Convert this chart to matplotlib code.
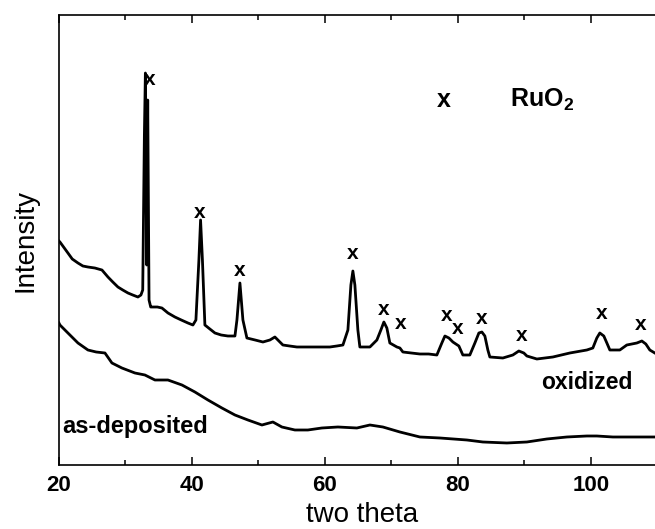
import matplotlib
matplotlib.use('Agg')
import matplotlib.pyplot as plt
from matplotlib.ticker import MultipleLocator

plt.rcParams['font.family'] = ['Liberation Sans', 'DejaVu Sans']
plt.rcParams['mathtext.fontset'] = 'custom'
plt.rcParams['mathtext.rm'] = 'Liberation Sans:bold'
plt.rcParams['mathtext.default'] = 'rm'

# ── Data (arbitrary intensity units) ─────────────────────────────────────────
ox_theta = [20.0, 20.15, 21.35, 22.0, 22.86, 23.6, 24.36, 25.4, 26.47, 27.37,
            28.1, 28.87, 29.6, 30.38, 31.1, 31.88, 32.33, 32.6, 32.85, 33.0,
            33.2, 33.35, 33.55, 33.8, 33.98, 34.8, 35.49, 36.4, 37.44, 38.4,
            39.4, 40.15, 40.6, 41.05, 41.3, 41.58, 41.95, 42.7, 43.46, 44.4,
            45.41, 46.47, 46.77, 47.22, 47.67, 48.27, 49.5, 50.68, 51.73, 52.48,
            53.23, 53.68, 54.7, 55.79, 57.0, 58.2, 59.5, 60.75, 61.8, 62.71,
            63.46, 63.91, 64.21, 64.51, 64.96, 65.26, 66.77, 67.82, 68.42, 68.87,
            69.32, 69.77, 70.83, 71.28, 71.73, 73.0, 74.29, 75.6, 76.84, 77.59,
            78.05, 78.65, 79.25, 79.7, 80.15, 80.75, 81.8, 82.56, 83.16, 83.61,
            84.06, 84.51, 84.81, 86.77, 88.27, 89.17, 89.92, 90.38, 91.88, 94.29,
            96.84, 99.4, 100.3, 100.9, 101.35, 101.95, 102.41, 102.86, 104.36, 105.41,
            106.92, 107.67, 108.27, 108.87, 109.62]
ox_int = [224, 223, 212, 206, 202, 199, 198, 197, 195, 188,
          183, 178, 175, 172, 170, 168, 170, 175, 330, 392,
          200, 365, 165, 158, 158, 158, 157, 152, 148, 145,
          142, 140, 145, 205, 245, 205, 140, 136, 132, 130,
          129, 129, 145, 182, 145, 127, 125, 123, 125, 128,
          123, 120, 119, 118, 118, 118, 118, 118, 119, 120,
          135, 180, 194, 180, 135, 118, 118, 125, 135, 143,
          137, 122, 118, 117, 113, 112, 111, 111, 110, 122,
          129, 127, 123, 121, 119, 110, 110, 122, 132, 133,
          129, 115, 108, 107, 110, 114, 112, 109, 106, 108,
          112, 115, 117, 127, 132, 129, 122, 115, 115, 120,
          122, 124, 121, 115, 112]

dep_theta = [20.0, 20.15, 21.35, 22.86, 24.36, 25.6, 26.92, 27.97, 29.47, 31.43,
             32.93, 34.44, 36.39, 38.5, 40.45, 42.41, 44.51, 46.47, 48.42, 50.53,
             52.18, 53.53, 55.49, 57.44, 59.55, 61.95, 64.81, 66.77, 68.72, 71.28,
             74.29, 77.29, 81.35, 83.76, 87.37, 90.38, 93.38, 96.39, 99.4, 100.9,
             103.31, 106.32, 109.62]
dep_int = [142, 140, 132, 122, 115, 113, 112, 102, 97, 92,
           90, 85, 85, 80, 73, 65, 57, 50, 45, 40,
           43, 38, 35, 35, 37, 38, 37, 40, 38, 33,
           28, 27, 25, 23, 22, 23, 26, 28, 29, 29,
           28, 28, 28]

# RuO2 reflections marked with "x"
peak_theta = [33.68, 41.2, 47.22, 64.21, 68.87, 71.43, 78.35, 80.0, 83.61, 89.62, 101.65, 107.52]
peak_label_y = [386, 253, 195, 212, 156, 142, 150, 137, 147, 130, 152, 141]

# ── Plot ─────────────────────────────────────────────────────────────────────
fig = plt.figure(figsize=(6.55, 5.29), dpi=100)
ax = fig.add_axes([0.090, 0.121, 0.910, 0.8506])

ax.plot(ox_theta, ox_int, color='black', linewidth=2.0)
ax.plot(dep_theta, dep_int, color='black', linewidth=2.0)

for px, py in zip(peak_theta, peak_label_y):
    ax.text(px, py, 'x', ha='center', va='center', fontsize=15, fontweight='bold')

ax.text(77.9, 365, 'x', ha='center', va='center', fontsize=18, fontweight='bold')
ax.text(87.8, 358, 'RuO$_2$', ha='left', va='baseline', fontsize=18, fontweight='bold')
ax.text(99.4, 82, 'oxidized', ha='center', va='center', fontsize=16.5, fontweight='bold')
ax.text(31.5, 38, 'as-deposited', ha='center', va='center', fontsize=17, fontweight='bold')

ax.set_xlim(20, 109.65)
ax.set_ylim(0, 450)
ax.xaxis.set_major_locator(MultipleLocator(20))
ax.xaxis.set_minor_locator(MultipleLocator(10))
ax.set_yticks([])
ax.tick_params(axis='x', which='both', direction='in', top=True, bottom=True, width=1.1)
ax.tick_params(axis='x', which='major', length=6, pad=7, labelsize=16)
ax.tick_params(axis='x', which='minor', length=3.5)
for lbl in ax.get_xticklabels():
    lbl.set_fontweight('bold')

ax.spines['right'].set_visible(False)
for s in ('left', 'bottom', 'top'):
    ax.spines[s].set_linewidth(1.2)

ax.set_xlabel('two theta', fontsize=20)
ax.set_ylabel('Intensity', fontsize=20)
ax.xaxis.set_label_coords(0.508, -0.083)
ax.yaxis.set_label_coords(-0.035, 0.5)

fig.savefig('out.png', dpi=100)
